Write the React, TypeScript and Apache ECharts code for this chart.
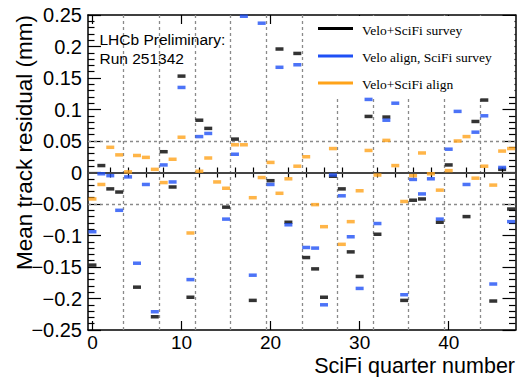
import React, { useEffect, useRef } from "react";
import * as echarts from "echarts";

// SciFi quarter numbers
const quarters = [
  0, 1, 2, 3, 4, 5, 6, 7, 8, 9, 10, 11, 12, 13, 14, 15, 16, 17, 18, 19, 20, 21, 22, 23,
  24, 25, 26, 27, 28, 29, 30, 31, 32, 33, 34, 35, 36, 37, 38, 39, 40, 41, 42, 43, 44, 45, 46, 47,
];

// Mean track residual (mm); null = outside the plotted range
const veloSciFiSurvey: (number | null)[] = [
  -0.147, 0.011, -0.026, -0.031, null, -0.182, null, -0.229, 0.033, -0.023, 0.153, -0.198,
  0.083, 0.070, null, -0.055, 0.053, null, -0.203, null, -0.013, 0.196, -0.079, 0.189,
  -0.135, -0.153, -0.198, -0.006, -0.026, -0.126, -0.165, 0.089, -0.098, 0.088, null, -0.203,
  -0.044, -0.042, null, -0.079, 0.012, null, -0.070, 0.081, 0.115, -0.204, 0.005, -0.058,
];
const veloAlignSciFiSurvey: (number | null)[] = [
  -0.094, -0.002, -0.005, -0.060, -0.007, -0.144, -0.019, -0.221, 0.012, -0.015, 0.135, -0.170,
  0.057, 0.062, null, -0.074, 0.029, 0.248, -0.163, 0.237, -0.019, 0.167, -0.083, 0.171,
  -0.119, -0.120, -0.210, -0.004, -0.037, -0.102, -0.184, 0.116, -0.081, 0.083, 0.110, -0.194,
  -0.011, -0.034, -0.010, -0.074, 0.037, 0.097, -0.019, 0.064, 0.090, -0.177, 0.008, -0.078,
];
const veloSciFiAlign: (number | null)[] = [
  -0.042, -0.019, 0.040, 0.028, 0.001, 0.027, 0.024, 0.005, -0.016, 0.021, 0.056, -0.096,
  0.002, 0.023, -0.015, -0.025, 0.044, 0.044, -0.040, -0.008, 0.016, -0.033, -0.010, 0.010,
  0.025, -0.051, -0.086, 0.038, -0.114, -0.078, -0.029, 0.035, -0.004, 0.051, 0.011, -0.046,
  -0.005, 0.031, -0.002, -0.028, 0.003, 0.050, 0.057, -0.009, 0.010, -0.020, 0.034, 0.038,
];

const seriesNames = ["Velo+SciFi survey", "Velo align, SciFi survey", "Velo+SciFi align"];
const seriesColors = ["#000000", "#1f50f5", "#ffa31a"];

const xMajorTicks = [0, 10, 20, 30, 40];
const xMinorTicks = [2, 4, 6, 8, 12, 14, 16, 18, 22, 24, 26, 28, 32, 34, 36, 38, 42, 44, 46];
const stationBoundaries = [3.5, 7.5, 11.5, 15.5, 19.5, 23.5, 27.5, 31.5, 35.5, 39.5, 43.5];
const yDashedLines = [0.05, -0.05];

const FONT = "'Liberation Sans', Arial, Helvetica, sans-serif";
const SERIF = "'Liberation Serif', 'Times New Roman', serif";

export default function App() {
  const ref = useRef<HTMLDivElement>(null);

  useEffect(() => {
    if (!ref.current) return;
    const chart = echarts.init(ref.current, null, { renderer: "svg" });

    const toPts = (arr: (number | null)[]) =>
      arr
        .map((v, i) => (v === null ? null : [quarters[i], v]))
        .filter((p) => p !== null) as number[][];

    const axisLine = { show: true, onZero: false, lineStyle: { color: "#000", width: 1.5 } };
    const tickLine = { color: "#000", width: 1.2 };

    const xBase = { type: "value", min: -0.5, max: 47.5, splitLine: { show: false } };
    const yBase = {
      type: "value",
      min: -0.25,
      max: 0.25,
      interval: 0.05,
      splitLine: { show: false },
      axisLine,
      axisTick: { show: true, inside: true, length: 13, lineStyle: tickLine },
      minorTick: { show: true, splitNumber: 5, length: 6.5, lineStyle: tickLine },
    };

    const dashed = { color: "#8a8a8a", width: 1.3, type: [3, 3] };

    const legendLineY = [28.5, 56, 83];

    const option: any = {
      animation: false,
      backgroundColor: "#ffffff",
      grid: { left: 88, right: 1.5, top: 15, bottom: 47, containLabel: false },
      xAxis: [
        {
          ...xBase,
          position: "bottom",
          axisLine,
          axisTick: { show: true, inside: true, length: 9, customValues: xMajorTicks, lineStyle: tickLine },
          axisLabel: {
            show: true,
            customValues: xMajorTicks,
            color: "#000",
            fontSize: 19,
            fontFamily: FONT,
            margin: 3,
          },
        },
        {
          ...xBase,
          position: "top",
          axisLine,
          axisTick: { show: true, inside: true, length: 9, customValues: xMajorTicks, lineStyle: tickLine },
          axisLabel: { show: false },
        },
        {
          ...xBase,
          position: "bottom",
          axisLine: { show: false },
          axisTick: { show: true, inside: true, length: 5, customValues: xMinorTicks, lineStyle: tickLine },
          axisLabel: { show: false },
        },
        {
          ...xBase,
          position: "top",
          axisLine: { show: false },
          axisTick: { show: true, inside: true, length: 5, customValues: xMinorTicks, lineStyle: tickLine },
          axisLabel: { show: false },
        },
      ],
      yAxis: [
        {
          ...yBase,
          position: "left",
          axisLabel: {
            show: true,
            color: "#000",
            fontSize: 20,
            fontFamily: FONT,
            margin: 6,
            formatter: (v: number) => {
              const s = String(parseFloat(v.toFixed(2)));
              return s.replace("-", "\u2212");
            },
          },
        },
        { ...yBase, position: "right", axisLabel: { show: false } },
      ],
      series: [
        {
          type: "scatter",
          name: "lines",
          data: [[0, 0]],
          symbolSize: 0,
          silent: true,
          z: 1,
          markLine: {
            silent: true,
            symbol: "none",
            animation: false,
            label: { show: false },
            emphasis: { disabled: true },
            data: [
              ...stationBoundaries.map((x) => ({ xAxis: x, lineStyle: dashed })),
              ...yDashedLines.map((y) => ({ yAxis: y, lineStyle: dashed })),
              { yAxis: 0, lineStyle: { color: "#444", width: 2, type: "solid" } },
            ],
          },
        },
        ...[veloSciFiSurvey, veloAlignSciFiSurvey, veloSciFiAlign].map((arr, k) => ({
          type: "scatter",
          name: seriesNames[k],
          data: toPts(arr),
          symbol: "rect",
          symbolSize: [8, 3.5],
          itemStyle: { color: seriesColors[k] },
          z: 5 + k,
          silent: true,
        })),
      ],
      graphic: [
        {
          type: "rect",
          z: 50,
          shape: { x: 312, y: 16, width: 202.5, height: 80 },
          style: { fill: "#ffffff" },
          silent: true,
        },
        ...legendLineY.map((y, k) => ({
          type: "line",
          z: 51,
          shape: { x1: 318, y1: y, x2: 353, y2: y },
          style: { stroke: seriesColors[k], lineWidth: 3 },
          silent: true,
        })),
        ...legendLineY.map((y, k) => ({
          type: "text",
          z: 51,
          x: 362,
          y: y + 1.5,
          style: {
            text: seriesNames[k],
            font: `13.5px ${SERIF}`,
            fill: "#000",
            textAlign: "left",
            textVerticalAlign: "middle",
          },
          silent: true,
        })),
        {
          type: "text",
          z: 51,
          x: 99.5,
          y: 39.5,
          style: {
            text: "LHCb Preliminary:",
            font: `15.5px ${FONT}`,
            fill: "#000",
            textAlign: "left",
            textVerticalAlign: "middle",
          },
        },
        {
          type: "text",
          z: 51,
          x: 99.5,
          y: 58,
          style: {
            text: "Run 251342",
            font: `15.5px ${FONT}`,
            fill: "#000",
            textAlign: "left",
            textVerticalAlign: "middle",
          },
        },
        {
          type: "text",
          z: 51,
          x: 515,
          y: 366,
          style: {
            text: "SciFi quarter number",
            font: `21.5px ${FONT}`,
            fill: "#000",
            textAlign: "right",
            textVerticalAlign: "middle",
          },
        },
        {
          type: "text",
          z: 51,
          x: 24,
          y: 15,
          rotation: Math.PI / 2,
          style: {
            text: "Mean track residual (mm)",
            font: `22.5px ${FONT}`,
            fill: "#000",
            textAlign: "right",
            textVerticalAlign: "middle",
          },
        },
      ],
    };

    chart.setOption(option);
    return () => chart.dispose();
  }, []);

  return (
    <div
      ref={ref}
      style={{ position: "fixed", left: 0, top: 0, width: 517, height: 377, background: "#fff" }}
    />
  );
}
